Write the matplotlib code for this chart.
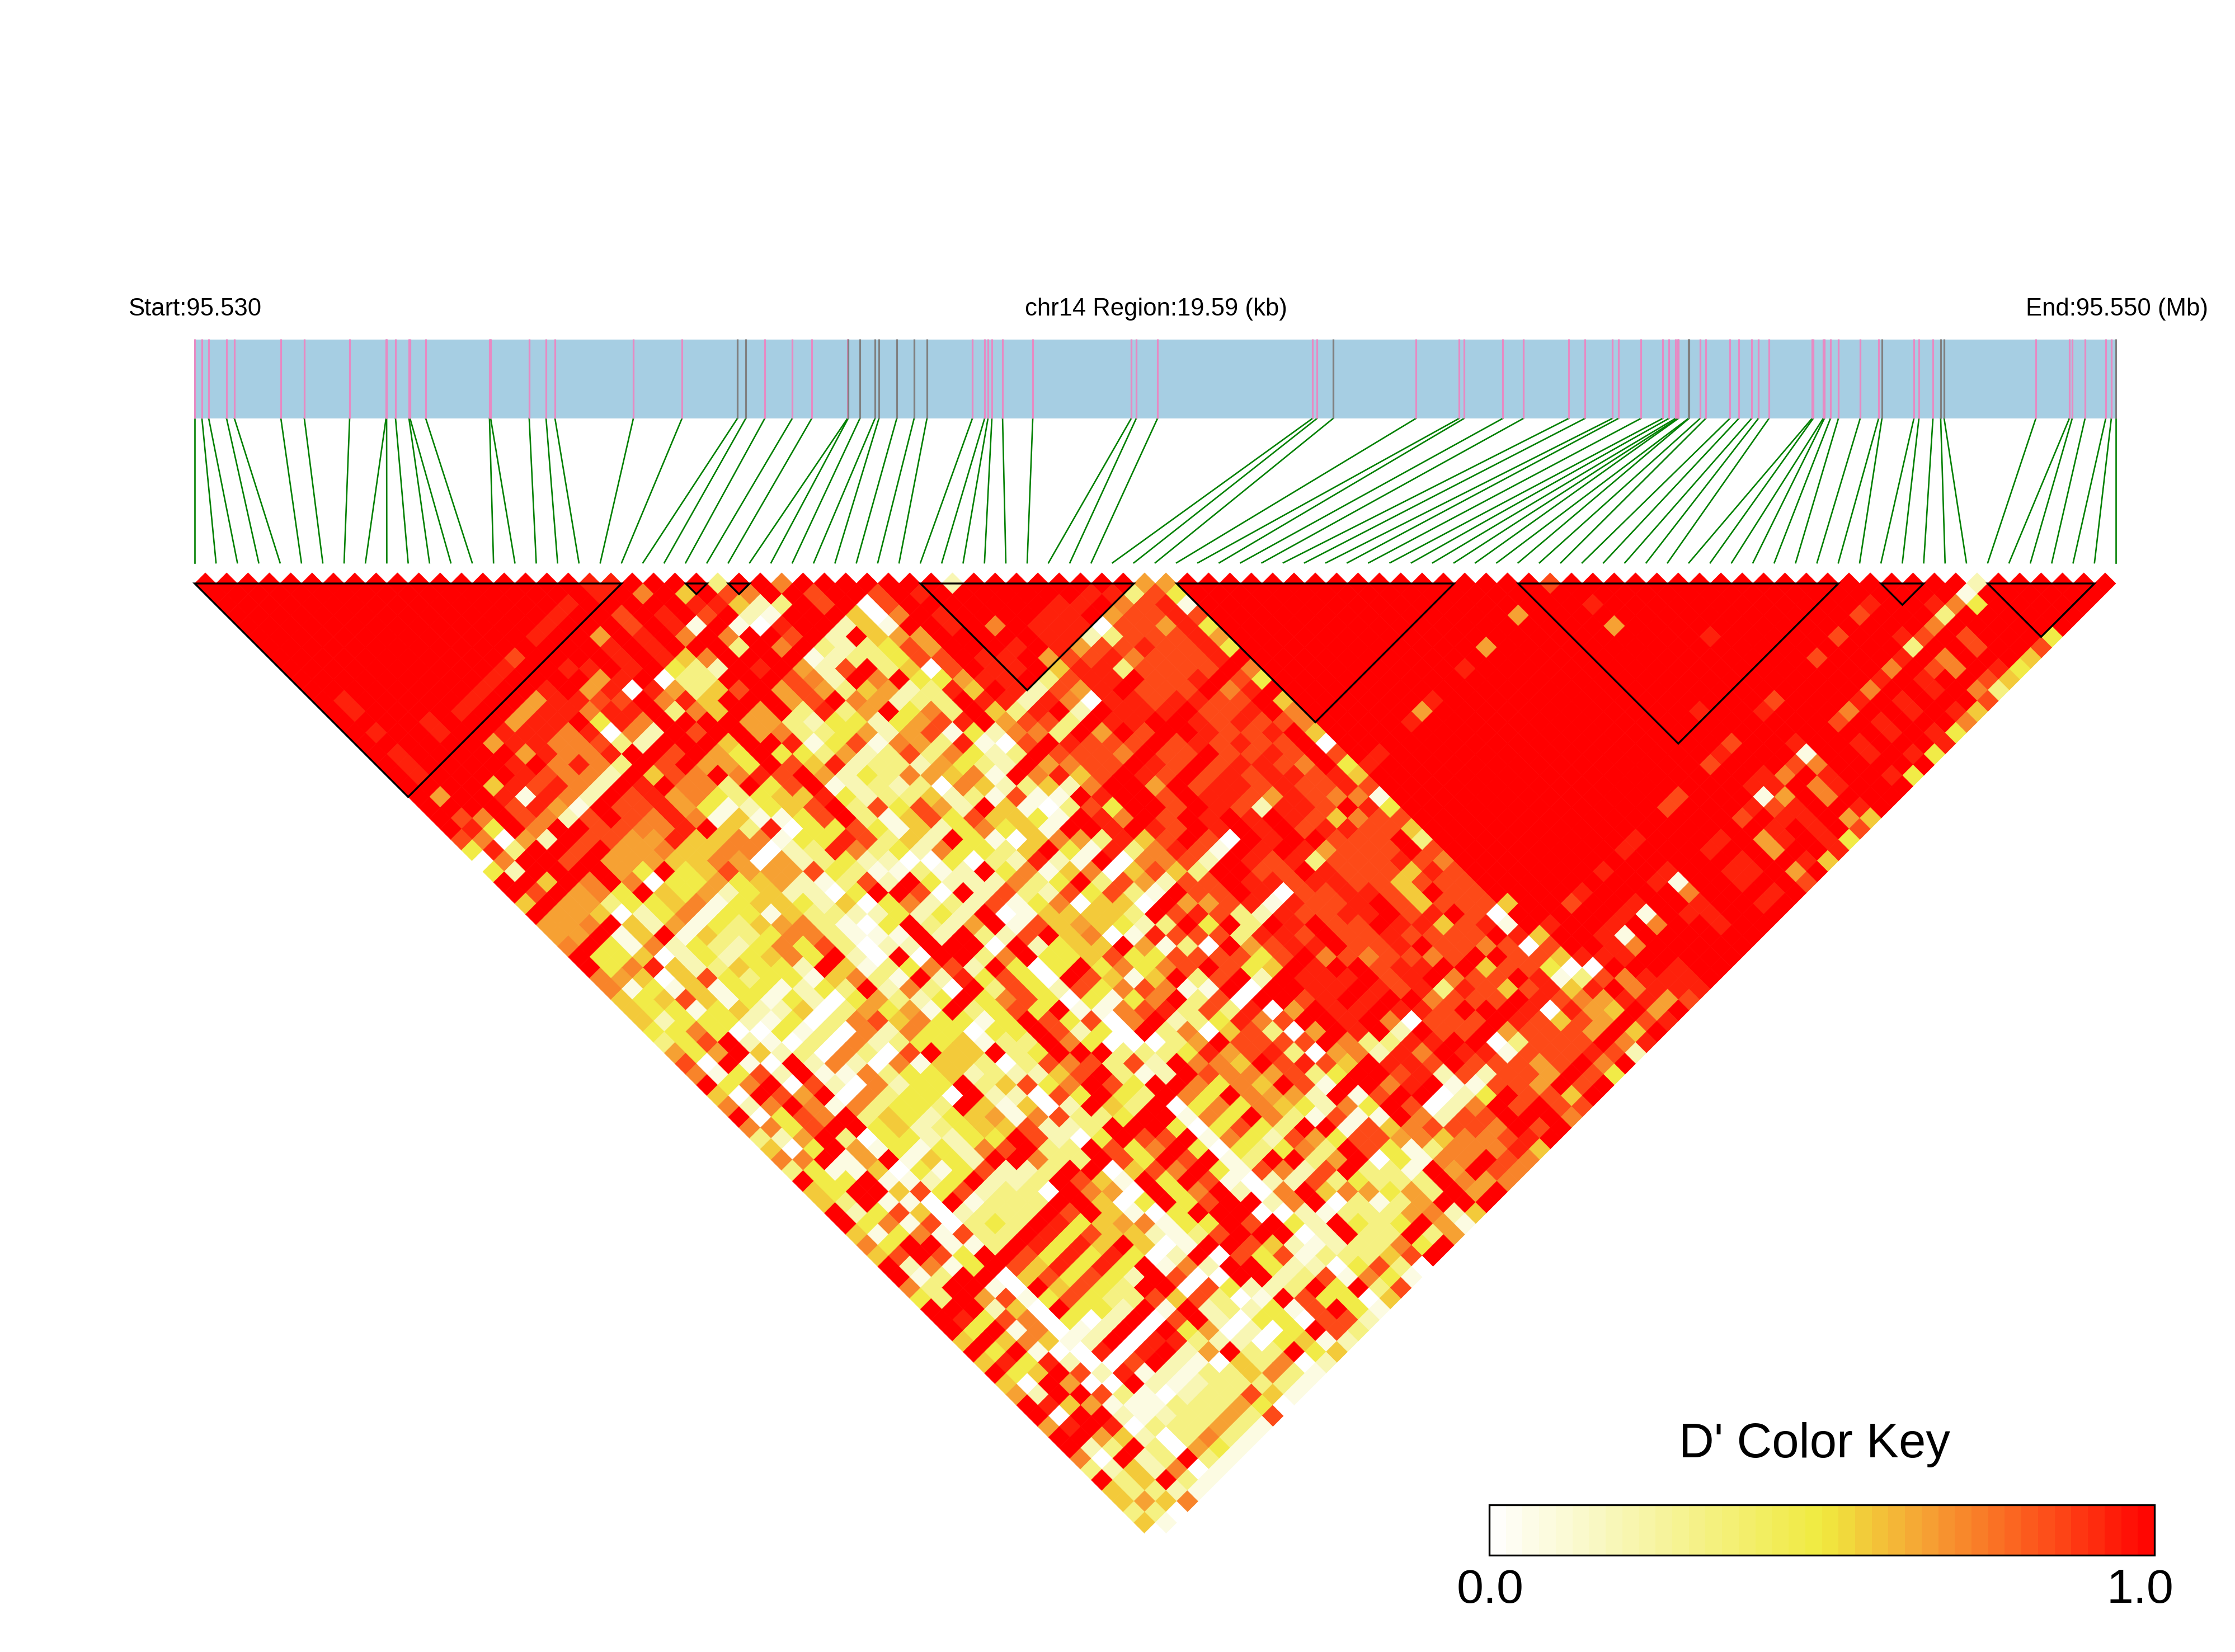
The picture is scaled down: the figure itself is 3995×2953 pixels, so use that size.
import matplotlib
matplotlib.use("Agg")
import matplotlib.pyplot as plt
import numpy as np
from matplotlib.collections import PolyCollection
from matplotlib.colors import LinearSegmentedColormap
from matplotlib.patches import Polygon, Rectangle

plt.rcParams['font.family'] = ['Liberation Sans', 'DejaVu Sans']

# SNP offsets from region start (kb)
snp_kb = [0.000, 0.074, 0.143, 0.325, 0.405, 0.879, 1.118, 1.580, 1.951, 1.957,
          2.048, 2.185, 2.196, 2.356, 3.006, 3.018, 3.411, 3.583, 3.674, 4.473,
          4.969, 5.534, 5.619, 5.813, 6.093, 6.292, 6.657, 6.663, 6.783, 6.937,
          6.977, 7.159, 7.336, 7.467, 7.930, 8.055, 8.089, 8.129, 8.238, 8.546,
          9.550, 9.601, 9.818, 11.398, 11.444, 11.609, 12.453, 12.893, 12.944, 13.338,
          13.549, 14.011, 14.176, 14.456, 14.518, 14.747, 14.969, 15.032, 15.100, 15.123,
          15.129, 15.232, 15.237, 15.351, 15.408, 15.654, 15.745, 15.876, 15.945, 16.053,
          16.492, 16.504, 16.606, 16.618, 16.680, 16.761, 16.983, 17.171, 17.205, 17.531,
          17.582, 17.725, 17.804, 17.839, 18.774, 19.116, 19.145, 19.276, 19.487, 19.544,
          19.590]
gray_snps = [21, 22, 27, 28, 29, 30, 31, 32, 33, 45, 61, 62, 78, 82, 83, 90]
region_kb = 19.59

# haplotype blocks as (first SNP, last SNP)
blocks = [(0, 20), (23, 24), (25, 26), (34, 44), (46, 59), (62, 77), (79, 81), (84, 89)]

# D' classes used in the strings below
dprime_levels = {'0': 0.0, '1': 0.08, '2': 0.2, '3': 0.33, '4': 0.48, '5': 0.57,
                 '6': 0.66, '7': 0.72, '8': 0.85, 'a': 0.93, '9': 1.0}

# row -> "k:classes" runs, k = sum of the two SNP indices, step 2. Everything not listed is 1.0
ld_top = {
    0: "37:aa 49:3 55:7 71:2 89:66 127:8 167:2",
    1: "38:a 42:7 46:5 50:87 58:8 64:8 68:a 84:aa384 166:1",
    2: "35:a 47:aa523 59:8 63:0 65:8 81:aa 87:78a1 131:a 157:a 163:a74",
    3: "34:a 40:8 44:a 48:8 52:21 62:50 66:7 70:a 80:aa 86:688a8 124:6 156:8 164:3",
    4: "33:a 41:8 45:a1 51:10a 61:251 71:a 75:7 79:aaa0886a4 133:6 163:7",
    5: "32:a 38:6 42:a 46:7 50:7 56:8 60:2 64:566 80:aa23888a6 142:a 154:8 160:a8 166:8 174:4",
    6: "39:a 43:a 51:3 55:7 59:3234 67:86 77:a 81:a688a88a4 121:6 161:3 167:8 173:8",
    7: "30:8 40:a 44:a5 48:7 58:123 64:34 68:88 74:aa 80:688a7888a 152:8 160:a 164:7 172:5",
    8: "29:a 35:aa 41:a 45:432 53:a 57:628 65:3508 75:aa 81:5aa38888 99:7 119:a 159:7 163:87 169:a 171:4",
    9: "28:a 38:6a 44:033 56:872 64:79446aa 80:38aa988a 98:84 158:a 162:a 168:8 170:5",
    10: "27:a 33:a 37:6a0a6358 55:68635623a59a286a9888 97:7a 157:7 163:a 167:7 169:3",
    11: "14:a 26:a 32:6aa88 44:7a5 56:68 62:762339aa2a70aa8aa88 102:5 116:a 148:8 156:a 160:a 168:8",
    12: "15:a 25:a 31:6aa7aa 45:375 53:6 57:3a3 63:69473953a929aaa 95:88a 103:7 115:6 141:a 147:a 155:7 161:a 165:a 167:5",
    13: "22:a 30:6aa 38:4a7 52:6632442468a968839aa 94:a8a887 114:a 154:8 158:a 166:7",
    14: "17:a 23:a 29:aaa7a072 47:8 53:6733462681427739698 95:a88a 105:5 159:a 163:a 165:4",
    15: "28:6aa77832 50:5 56:a1481763a1089a888 92:8a8a88 106:0 144:8 150:a 156:a 164:a",
    16: "19:a 31:6a77a 45:8 49:64 55:44362383742398887 91:88 97:88a8 107:8 111:a 143:a 151:1 157:a 161:a 163:4",
    17: "20:a 30:a 34:7a73 44:8 48:664 56:85a2332643296788 90:a8 96:8aa87 108:4a 142:8 150:87",
}
ld_middle = {
    18: "21:a 31:a8772 43:587 51:7a8 59:62 63:437657197a58 89:a8 95:8a8aa8a5 147:a7 153:a 159:a 161:4",
    19: "28:5a8a72 42:a 46:773 54:48 60:12 64:32307523527 90:6 94:8aa8a88a8 146:aa 152:7a",
    20: "23:6 29:a1a72 41:8a6743455a423352318119a 91:8 95:aa86a8771 139:8 147:1 149:6 153:7",
    21: "30:8a61 40:88a6412458 62:3848629510384 92:8 96:a82aa8 110:a4 138:8 146:a8a 156:a",
    22: "25:87 31:8728 41:87a7151148 63:3158485541 85:a7 91:8 95:a 99:a 103:a85788 145:8 149:aa 155:65",
    23: "26:a4 32:7 38:8877a 50:53a0448415247451 86:a 90:a8 96:a 100:a 104:8aa885 148:a 152:a 156:8",
    24: "25:87062 37:8866a5577144a835294105763a58 95:80 101:a 107:888 115:3 135:a 143:a 147:6a 153:a4",
    25: "26:4a3 36:8 40:6675577023a734274435941a37a81 100:a 104:a6888 116:8 134:a 142:a 148:6 154:a",
    26: "27:07 35:8 39:66655760623422004032a21907782 99:a8a3888a87 145:a 151:a5",
    27: "28:42 40:64 46:4586668431131294715705853 100:88 106:a8885a8 132:a 138:a 144:a 146:a 150:6",
    28: "33:5 37:7 41:7044645621382942227349386288 99:aa8aa885888 137:a1 145:a 151:8",
    29: "32:8 36:6749546245220499809283284831988 100:a088aa85988 130:a 140:7 148:a",
    30: "31:5 35:66344571455425047232814705509668a1a88a9858885 129:8 135:a 141:a 147:a",
    31: "32:9 34:665024714415332242429015555398a832a88aa98a980 134:a1 140:aa",
    32: "33:66795261435673104932691856542394939a9889aa58a1 127:a 133:a 137:7 143:a",
    33: "34:66915915334773111929" + "32895701a8" + "883aa8988a" + "88889a5 132:a 134:1",
    34: "35:7941724324" + "7483022999" + "0924559613" + "0968aa988a" + "9887808 133:a 135:7",
    35: "36:94450242457492090993794458448888489787887899885aaa",
}
ld_lower = {
    36: "37:947a52354429513478294049474789" + "8459a998aa" + "9958840099" + "9a99",
    37: "38:7650584344" + "1573192a48" + "4098515938" + "929aaa98a9" + "7889a1387a" + "aa9",
    38: "39:7141514412" + "4392730938" + "4284787119" + "099aa9a8a3" + "a858a5a97a" + "aa",
    39: "40:5458514142" + "0463249478" + "4041479380" + "998a9a9978" + "889a876aa6" + "8",
    40: "41:5441452250" + "3646193484" + "91178a383a" + "069aa9aa89" + "99a0a65969",
    41: "42:5244421403" + "7857441498" + "48079234a7" + "899a970888" + "9a858698a",
    42: "43:4474004130" + "7274404498" + "2409370583" + "069a929889" + "68886959",
    43: "44:3489210307" + "2344513397" + "4000369888" + "89733aa990" + "388897a",
    44: "45:6469523073" + "0895593499" + "93334a68a3" + "0672a79aa1" + "888a82",
    45: "46:8091092720" + "7155303878" + "382977598a" + "859aa89888" + "68979",
    46: "47:7148291173" + "4452322589" + "3129877683" + "4998a28288" + "6984",
    47: "48:9479082072" + "4493584798" + "4997475981" + "997a911886" + "989",
    48: "49:5098690734" + "4092208494" + "3974976629" + "1899024988" + "59",
    49: "50:7279717344" + "3951502953" + "9047475427" + "4980279898" + "8",
    50: "51:9048793542" + "4561783349" + "9174973181" + "1972889997",
    51: "52:7748994523" + "4558223999" + "4048439918" + "578887989",
    52: "53:3269304422" + "4498204988" + "9174286488" + "675778a9",
    53: "54:5049614142" + "7893398479" + "4043473984" + "13777a5",
}
ld_bottom = {
    54: "55:7791691542" + "9973398498" + "9139936904" + "177987",
    55: "56:3411504148" + "2239905879" + "4187289331" + "96987",
    56: "57:944911249" + "2239851949" + "8102283433" + "39767",
    57: "58:549958482330976094792079576463969",
    58: "59:5391109133399504" + "9489927903136999",
    59: "60:924850233398951" + "0499900213336725",
    60: "61:9471803439a4567" + "144989429434961",
    61: "62:514718339a4855" + "213899902933936",
    62: "63:74991139a4a595" + "01998521233749",
    63: "64:589849984a4a4" + "02908481333589",
    64: "65:92714985a4a49" + "1729942204830",
    65: "66:913990584842" + "9800992381741",
    66: "67:739910958439" + "908422394938",
    67: "68:43968148433" + "858301984405",
    68: "69:99925094429" + "19232418941",
    69: "70:9a48704029" + "08920440882",
    70: "71:9491701290" + "9460204983",
    71: "72:595751290" + "aa32204512",
    72: "73:949100a0a926933945",
    73: "74:5a4a2008921053702",
    74: "75:945982a121335731",
    75: "76:509600921233331",
    76: "77:62998310233851",
    77: "78:9a56111333640",
    78: "79:909921233638",
    79: "80:6a9a0333631",
    80: "81:9965203731",
    81: "82:923930641",
    82: "83:70923931",
    83: "84:3252701",
    84: "85:935931",
    85: "86:53321",
    86: "87:5657",
    87: "88:330",
    88: "89:51",
    89: "90:0",
}

key_cmap = LinearSegmentedColormap.from_list(
    "dprime", [(0.0, "#FFFFFF"), (0.2, "#F8F6B4"), (0.5, "#F0EA3F"), (0.66, "#F6A033"),
               (0.85, "#FD4A18"), (1.0, "#FF0000")])

# page layout in output pixels
left, right = 348.0, 3782.0
n_snps = len(snp_kb)
step = (right - left) / (n_snps - 1)
heat_top = 1043.0
half = step / 2


def build_matrix():
    """Expand the anchored row strings into D' value per (row, first SNP)."""
    values = [np.ones(n_snps - 1 - r) for r in range(n_snps - 1)]
    for table in (ld_top, ld_middle, ld_lower, ld_bottom):
        for r, text in table.items():
            for run in text.split():
                start, chars = run.split(":")
                for n, c in enumerate(chars):
                    i = (int(start) + 2 * n - r - 1) // 2
                    if 0 <= i < len(values[r]):
                        values[r][i] = dprime_levels[c]
    return values


def main():
    fig = plt.figure(figsize=(39.95, 29.53), dpi=100)
    ax = fig.add_axes([0, 0, 1, 1])
    ax.set_xlim(0, 3995)
    ax.set_ylim(2953, 0)
    ax.axis("off")

    # gene bar with SNP ticks and connectors
    bar_top, bar_bottom, line_end = 607, 748, 1006
    ax.add_patch(Rectangle((left, bar_top), right - left, bar_bottom - bar_top,
                           facecolor="#A6CEE3", edgecolor="none"))
    for n, kb in enumerate(snp_kb):
        x_gene = left + kb / region_kb * (right - left)
        x_even = left + n * step
        tick_color = "#808080" if n in gray_snps else "#E78AC3"
        ax.plot([x_gene, x_gene], [bar_top - 1, bar_bottom], color=tick_color, lw=2.3,
                solid_capstyle="butt", zorder=3)
        ax.plot([x_gene, x_even], [bar_bottom, line_end], color="#008000", lw=1.9, zorder=2)

    # LD triangle, one rotated square per SNP pair
    polys, cell_values = [], []
    for r, row in enumerate(build_matrix()):
        for i, value in enumerate(row):
            cx = left + half * (2 * i + r + 1)
            cy = heat_top + half * r
            polys.append([(cx - half, cy), (cx, cy - half), (cx + half, cy), (cx, cy + half)])
            cell_values.append(value)
    cells = PolyCollection(polys, array=np.array(cell_values), cmap=key_cmap, linewidths=0.5,
                           edgecolors="face", zorder=1)
    cells.set_clim(0, 1)
    ax.add_collection(cells)

    # block outlines
    for a, b in blocks:
        x_a, x_b = left + a * 2 * half, left + b * 2 * half
        apex = (x_a + x_b) / 2, heat_top + (b - a) * half
        ax.add_patch(Polygon([(x_a, heat_top), (x_b, heat_top), apex], closed=True, fill=False,
                             edgecolor="black", lw=2.4, joinstyle="miter", zorder=4))

    # labels
    ax.text(229, 564, "Start:95.530", fontsize=31.4, ha="left", va="baseline")
    ax.text(2066, 564, "chr14 Region:19.59 (kb)", fontsize=31.4, ha="center", va="baseline")
    ax.text(3947, 564, "End:95.550 (Mb)", fontsize=31.4, ha="right", va="baseline")

    # colour key
    key_x = np.linspace(2662, 3851, 41)
    key_levels = (np.arange(40) + 0.5) / 40
    ax.pcolormesh(key_x, [2690, 2780], key_levels[np.newaxis, :], cmap=key_cmap, vmin=0, vmax=1,
                  zorder=1)
    ax.add_patch(Rectangle((2662, 2690), 3851 - 2662, 90, fill=False, edgecolor="black", lw=2.4, zorder=4))
    ax.text(3243, 2605, "D' Color Key", fontsize=62.6, ha="center", va="baseline")
    ax.text(2664, 2865, "0.0", fontsize=62, ha="center", va="baseline")
    ax.text(3825, 2865, "1.0", fontsize=62, ha="center", va="baseline")

    fig.savefig("out.png", dpi=100, facecolor="white")


if __name__ == "__main__":
    main()
